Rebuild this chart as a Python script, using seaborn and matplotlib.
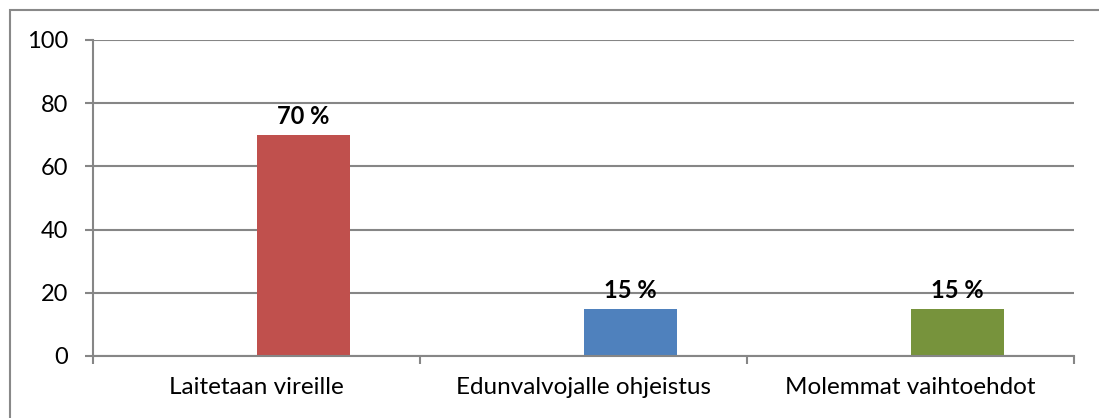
import matplotlib
matplotlib.use("Agg")
import matplotlib.pyplot as plt
import pandas as pd
import seaborn as sns
from matplotlib.patches import Rectangle

categories = ["Laitetaan vireille", "Edunvalvojalle ohjeistus", "Molemmat vaihtoehdot"]
values = [70, 15, 15]
labels = ["70 %", "15 %", "15 %"]
colors = ["#C0504D", "#4F81BD", "#77933C"]
yticks = [0, 20, 40, 60, 80, 100]

# Excel clustered layout: an empty first series, the visible one second
df = pd.DataFrame({
    "category": categories * 2,
    "series": ["empty"] * 3 + ["vastaus"] * 3,
    "value": [0] * 3 + values,
})

sns.set_style("white")
plt.rcParams["font.family"] = ["Lato", "DejaVu Sans"]
plt.rcParams["text.color"] = "black"
plt.rcParams["xtick.labelcolor"] = "black"
plt.rcParams["ytick.labelcolor"] = "black"

grey = "#868686"
fig = plt.figure(figsize=(10.99, 4.18), dpi=100)
ax = fig.add_axes([93 / 1099, 1 - 356 / 418, (1074 - 93) / 1099, (356 - 40) / 418])

sns.barplot(data=df, x="category", y="value", hue="series", order=categories,
            width=2 / 3.5, dodge=True, linewidth=0, legend=False, ax=ax,
            palette=["white", "white"])

# colour the visible bars per category
vis = ax.containers[1]
for patch, c in zip(vis, colors):
    patch.set_facecolor(c)
ax.bar_label(vis, labels=labels, padding=5, fontsize=17, fontweight="bold",
             color="black")

ax.set_ylim(0, 100)
ax.set_xlim(-0.5, len(categories) - 0.5)
ax.set_yticks(yticks)
ax.set_xlabel("")
ax.set_ylabel("")
ax.yaxis.grid(True, color=grey, linewidth=1.5)
ax.set_axisbelow(True)
for s in ["top", "right"]:
    ax.spines[s].set_visible(False)
for s in ["left", "bottom"]:
    ax.spines[s].set_color(grey)
    ax.spines[s].set_linewidth(1.5)

ax.tick_params(axis="y", length=6, width=1.5, color=grey, pad=12, labelsize=17,
               left=True, direction="out", labelcolor="black")
ax.tick_params(axis="x", which="major", length=0, pad=15, labelsize=17.5,
               labelcolor="black")
ax.set_xticks([i - 0.5 for i in range(len(categories) + 1)], minor=True)
ax.tick_params(axis="x", which="minor", length=6, width=1.5, color=grey,
               bottom=True, direction="out")

fig.patches.append(Rectangle((10 / 1099, -0.1), 1.2, 1 - 10 / 418 + 0.1,
                             transform=fig.transFigure, fill=False,
                             edgecolor="#898989", linewidth=1.5))

fig.savefig("out.png", dpi=100)
